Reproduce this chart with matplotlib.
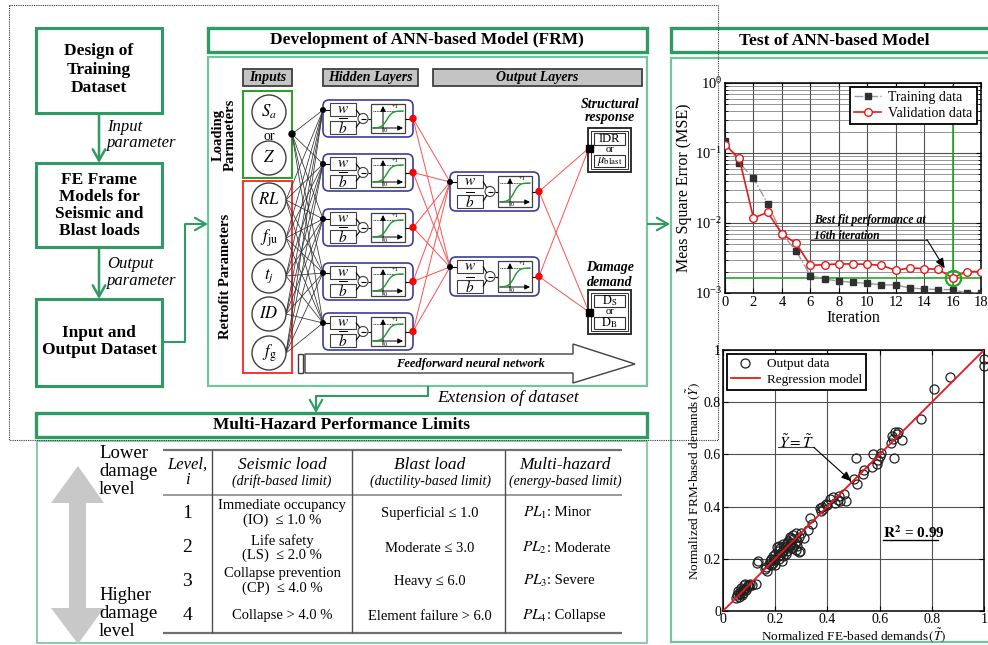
import numpy as np
import matplotlib
matplotlib.use("Agg")
import matplotlib.pyplot as plt
from matplotlib.patches import Rectangle, FancyBboxPatch, Circle, Polygon
from matplotlib.ticker import LogLocator, NullFormatter

plt.rcParams["font.family"] = ["Liberation Serif", "DejaVu Serif"]
plt.rcParams["mathtext.fontset"] = "stix"

# ---------------- training history (MSE vs iteration) ----------------
iterations = list(range(19))
mse_training = [0.147, 0.072, 0.044, 0.0189, 0.0070, 0.0040, 0.00177, 0.00158,
                0.00148, 0.00142, 0.00137, 0.00131, 0.00130, 0.00118, 0.00114,
                0.00112, 0.00112, 0.00100, 0.00100]
mse_validation = [0.131, 0.084, 0.0118, 0.0142, 0.0070, 0.0051, 0.00248, 0.00254,
                  0.00260, 0.00260, 0.00257, 0.00248, 0.00211, 0.00228, 0.00223,
                  0.00218, 0.00164, 0.00202, 0.00202]
best_iteration = 16
best_mse = 0.00164

# ---------------- FE vs FRM normalized demands ----------------
fe_demand = [0.05, 0.055, 0.06, 0.062, 0.065, 0.07, 0.072, 0.075, 0.078, 0.08,
             0.082, 0.085, 0.088, 0.09, 0.095, 0.10, 0.105, 0.11, 0.125, 0.07, 0.058,
             0.135, 0.13, 0.16, 0.165, 0.17, 0.175, 0.18, 0.185, 0.19, 0.19,
             0.195, 0.20, 0.20, 0.205, 0.21, 0.21, 0.215, 0.22, 0.22, 0.225,
             0.23, 0.23, 0.235, 0.24, 0.24, 0.245, 0.25, 0.25, 0.255, 0.26,
             0.26, 0.265, 0.27, 0.27, 0.275, 0.28, 0.28, 0.285, 0.29, 0.295,
             0.29, 0.30, 0.31, 0.325, 0.34, 0.335, 0.255, 0.245, 0.215, 0.225,
             0.185, 0.20, 0.23, 0.27, 0.285,
             0.37, 0.375, 0.38, 0.385, 0.395, 0.40, 0.41, 0.42, 0.43, 0.44,
             0.445, 0.45, 0.465, 0.47, 0.50, 0.515, 0.51, 0.535, 0.54, 0.57,
             0.575, 0.59, 0.595, 0.60, 0.605, 0.645, 0.648, 0.65, 0.655, 0.66,
             0.665, 0.67, 0.685, 0.76, 0.81, 0.87, 1.0, 1.0]
frm_demand = [0.05, 0.06, 0.07, 0.055, 0.065, 0.075, 0.06, 0.08, 0.07, 0.10,
              0.085, 0.105, 0.09, 0.08, 0.10, 0.095, 0.105, 0.10, 0.105, 0.09, 0.075,
              0.19, 0.185, 0.16, 0.17, 0.155, 0.18, 0.19, 0.20, 0.21, 0.185,
              0.20, 0.22, 0.195, 0.245, 0.21, 0.23, 0.20, 0.215, 0.24, 0.225,
              0.21, 0.235, 0.25, 0.22, 0.245, 0.26, 0.24, 0.27, 0.25, 0.28,
              0.26, 0.24, 0.275, 0.29, 0.26, 0.30, 0.235, 0.25, 0.225, 0.23,
              0.285, 0.30, 0.28, 0.31, 0.335, 0.355, 0.285, 0.23, 0.25, 0.19,
              0.175, 0.175, 0.255, 0.245, 0.27,
              0.395, 0.385, 0.40, 0.39, 0.41, 0.405, 0.43, 0.435, 0.415, 0.425,
              0.44, 0.42, 0.45, 0.42, 0.505, 0.485, 0.585, 0.525, 0.54, 0.55,
              0.60, 0.565, 0.58, 0.595, 0.605, 0.645, 0.67, 0.66, 0.585, 0.685,
              0.68, 0.685, 0.655, 0.735, 0.85, 0.895, 0.965, 0.94]
reg_x = [0.0, 1.0]
reg_y = [0.0, 1.0]

# ---------------- performance-limit table ----------------
levels = ["1", "2", "3", "4"]
seismic_limits = [("Immediate occupancy", "(IO)  \u2264 1.0 %"),
                  ("Life safety", "(LS)  \u2264 2.0 %"),
                  ("Collapse prevention", "(CP)  \u2264 4.0 %"),
                  ("Collapse > 4.0 %", None)]
blast_limits = ["Superficial \u2264 1.0", "Moderate \u2264 3.0",
                "Heavy \u2264 6.0", "Element failure > 6.0"]
hazard_limits = [(r"$PL_1$", ": Minor"), (r"$PL_2$", ": Moderate"),
                 (r"$PL_3$", ": Severe"), (r"$PL_4$", ": Collapse")]

GREEN_D = "#2f9a62"
GREEN_L = "#74c49c"
BLUE = "#3c3c9c"

W, H = 988, 645
fig = plt.figure(figsize=(W / 100, H / 100), dpi=100)
ax = fig.add_axes([0, 0, 1, 1])
ax.set_xlim(0, W)
ax.set_ylim(H, 0)
ax.axis("off")


def rect(x0, y0, x1, y1, ec="black", lw=1.0, fc="none", z=2, **kw):
    p = Rectangle((x0, y0), x1 - x0, y1 - y0, ec=ec, fc=fc, lw=lw, zorder=z, **kw)
    ax.add_patch(p)
    return p


def txt(x, y, s, size=10, weight="normal", style="normal", ha="center",
        va="center", color="black", z=5, **kw):
    return ax.text(x, y, s, fontsize=size, fontweight=weight, fontstyle=style,
                   ha=ha, va=va, color=color, zorder=z, **kw)


def line(xs, ys, color="black", lw=1.0, z=3, **kw):
    ax.plot(xs, ys, color=color, lw=lw, zorder=z, solid_capstyle="butt", **kw)


def arrow(x0, y0, x1, y1, color=GREEN_D, lw=1.8):
    ax.annotate("", xy=(x1, y1), xytext=(x0, y0), zorder=4,
                arrowprops=dict(arrowstyle="->,head_length=0.8,head_width=0.45",
                                color=color, lw=lw, shrinkA=0, shrinkB=0))


# ---------------- outer dotted frame ----------------
rect(9, 5, 718, 440, ec="#333333", lw=0.8, z=6, ls=(0, (1, 1)))

# ---------------- left flow chart ----------------
rect(36, 28, 162, 113, ec=GREEN_D, lw=2.2, fc="white")
for yy, s in zip([51, 70, 88], ["Design of", "Training", "Dataset"]):
    txt(99, yy, s, 12.5, "bold")
arrow(99, 113, 99, 163)
txt(107, 127, "Input", 12, style="italic", ha="left")
txt(107, 143, "parameter", 12, style="italic", ha="left")

rect(36, 163, 162, 247, ec=GREEN_D, lw=2.2, fc="white")
for yy, s in zip([180, 197, 214, 231],
                 ["FE Frame", "Models for", "Seismic and", "Blast loads"]):
    txt(99, yy, s, 12.5, "bold")
arrow(99, 247, 99, 299)
txt(107, 264, "Output", 12, style="italic", ha="left")
txt(107, 281, "parameter", 12, style="italic", ha="left")

rect(36, 299, 162, 386, ec=GREEN_D, lw=2.2, fc="white")
txt(99, 333, "Input and", 12.5, "bold")
txt(99, 350, "Output Dataset", 12.5, "bold")

line([162, 185, 185], [342, 342, 224], color=GREEN_D, lw=1.5)
arrow(185, 224, 208, 224, lw=1.5)

# ---------------- ANN development panel ----------------
rect(208, 28, 647, 52, ec=GREEN_D, lw=2.4, fc="white")
txt(427, 40, "Development of ANN-based Model (FRM)", 12.5, "bold")
rect(208, 57, 647, 386, ec=GREEN_L, lw=1.6, fc="white", z=1)
line([647, 668], [224, 224], color=GREEN_D, lw=1.5)
arrow(660, 224, 670, 224, lw=1.5)

for (x0, x1), s in zip([(243, 292), (323, 418), (433, 642)],
                       ["Inputs", "Hidden Layers", "Output Layers"]):
    rect(x0, 69, x1, 86, ec="#404040", lw=1.3, fc="#c4c4c4")
    txt((x0 + x1) / 2, 77.5, s, 10, "bold", "italic")

# input groups
rect(243, 91, 292, 178, ec="#22a022", lw=1.4, fc="white")
rect(243, 181, 292, 373, ec="#ff3030", lw=1.4, fc="white")
txt(218, 135, "Loading", 10.5, "bold", rotation=90)
txt(230, 135, "Parmaeters", 10.5, "bold", rotation=90)
txt(225, 276, "Retrofit Parameters", 10.5, "bold", rotation=90)

cx, cr = 269, 17
loading_nodes = [(112, r"$S_a$"), (158, r"$Z$")]
retrofit_nodes = [(200, r"$RL$"), (238, r"$f_{\mathrm{ju}}$"), (276, r"$t_j$"),
                  (314, r"$ID$"), (353, r"$f_{\mathrm{g}}$")]
for cy, lab in loading_nodes + retrofit_nodes:
    ax.add_patch(Circle((cx, cy), cr, ec="#404040", fc="white", lw=1.0, zorder=3))
    txt(cx, cy, lab, 12)
txt(cx, 136, "or", 10)

hid_tops = [100, 154, 209, 263, 313]
out_tops = [172, 257]
hid_x0, hid_w, hid_h = 323, 90, 37
out_x0, out_w, out_h = 450, 89, 39

# input -> hidden connections
src_pts = [(292, 134)] + [(cx + cr, cy) for cy, _ in retrofit_nodes]
for sx, sy in src_pts:
    for t in hid_tops:
        line([sx, hid_x0], [sy, t + 10], color="#303030", lw=0.55, z=2)
ax.add_patch(Circle((292, 134), 3, color="black", zorder=4))


def neuron(x0, y0, w, h):
    ax.add_patch(FancyBboxPatch((x0, y0), w, h,
                                boxstyle="round,pad=0,rounding_size=6",
                                ec=BLUE, fc="white", lw=1.2, zorder=3))
    ym = y0 + h / 2
    ax.add_patch(Circle((x0, y0 + 10), 2.3, color="black", zorder=5))
    line([x0, x0 + 7], [y0 + 10, y0 + 10], lw=0.8, z=4)
    rect(x0 + 7, y0 + 3, x0 + 33, y0 + 16, ec="#404040", lw=0.8, fc="white", z=4)
    txt(x0 + 20, y0 + 9.5, r"$w$", 11)
    rect(x0 + 7, y0 + h - 16, x0 + 33, y0 + h - 3, ec="#404040", lw=0.8,
         fc="white", z=4)
    txt(x0 + 20, y0 + h - 9.5, r"$\overline{b}$", 11)
    ax.add_patch(Circle((x0 + 40, ym), 5, ec="#404040", fc="white", lw=0.8, zorder=4))
    line([x0 + 37.5, x0 + 42.5], [ym, ym], lw=0.8, z=5)
    line([x0 + 33, x0 + 37], [y0 + 9.5, ym - 3.5], lw=0.8, z=4)
    line([x0 + 33, x0 + 37], [y0 + h - 9.5, ym + 3.5], lw=0.8, z=4)
    line([x0 + 45, x0 + 48], [ym, ym], lw=0.8, z=4)
    bx0, by0, bx1, by1 = x0 + 48, y0 + 4, x0 + 82, y0 + h - 4
    rect(bx0, by0, bx1, by1, ec="#404040", lw=0.9, fc="white", z=4)
    base, top = by1 - 5, by0 + 7
    ax.annotate("", xy=(bx1 - 2, base), xytext=(bx0 + 2, base), zorder=5,
                arrowprops=dict(arrowstyle="-|>,head_length=0.3,head_width=0.15",
                                color="black", lw=0.7, shrinkA=0, shrinkB=0))
    ax.annotate("", xy=(bx0 + 12, by0 + 2), xytext=(bx0 + 12, by1 - 1), zorder=5,
                arrowprops=dict(arrowstyle="-|>,head_length=0.3,head_width=0.15",
                                color="black", lw=0.7, shrinkA=0, shrinkB=0))
    line([bx0 + 2, bx1 - 2], [top, top], lw=0.6, z=5, ls=(0, (1, 1)))
    sx = np.linspace(bx0 + 2, bx1 - 2, 40)
    sy = base - (base - top) / (1 + np.exp(-(sx - (bx0 + 16)) / 2.6))
    ax.plot(sx, sy, color="#1a9a2a", lw=1.0, zorder=6)
    txt(bx0 + 24, by0 + 2.5, "+1", 4.5)
    txt(bx0 + 14.5, by1 - 2, "0", 4.5)
    line([bx1, x0 + w], [ym, ym], lw=0.8, z=4)
    ax.add_patch(Circle((x0 + w, ym), 3, color="red", zorder=6))
    return (x0, y0 + 10), (x0 + w, ym)


hid_ports = [neuron(hid_x0, t, hid_w, hid_h) for t in hid_tops]
out_ports = [neuron(out_x0, t, out_w, out_h) for t in out_tops]

for _, (rx, ry) in hid_ports:
    for (lx, ly), _ in out_ports:
        line([rx, lx], [ry, ly], color="#ff5050", lw=0.7, z=2)

# output variables
final_pts = [(589, 148), (589, 312)]
for _, (rx, ry) in out_ports:
    for fx, fy in final_pts:
        line([rx, fx], [ry, fy], color="#ff5050", lw=0.7, z=2)

txt(610, 105, "Structural", 10, "bold", "italic")
txt(610, 118, "response", 10, "bold", "italic")
txt(610, 268, "Damage", 10, "bold", "italic")
txt(610, 282, "demand", 10, "bold", "italic")
for y0, (a, b) in zip([128, 290], [("IDR", r"$\mu_{\mathrm{blast}}$"),
                                   (r"$\mathrm{D_S}$", r"$\mathrm{D_B}$")]):
    rect(588, y0, 631, y0 + 44, ec="#303030", lw=1.4, fc="white", z=3)
    rect(591, y0 + 3, 628, y0 + 41, ec="#303030", lw=0.7, fc="white", z=3)
    rect(594, y0 + 5, 625, y0 + 17, ec="#303030", lw=0.8, fc="white", z=4)
    rect(594, y0 + 27, 625, y0 + 39, ec="#303030", lw=0.8, fc="white", z=4)
    txt(609.5, y0 + 11, a, 9)
    txt(609.5, y0 + 22, "or", 7.5)
    txt(609.5, y0 + 33, b, 9)
for fx, fy in final_pts:
    rect(fx - 3.5, fy - 3.5, fx + 3.5, fy + 3.5, ec="black", fc="black", z=5)

# feed-forward arrow
rect(298, 354, 303, 373, ec="#404040", lw=1.0, fc="white")
ax.add_patch(Polygon([(305, 354), (573, 354), (573, 344), (635, 364), (573, 383),
                      (573, 373), (305, 373)], closed=True, ec="#404040",
                     fc="white", lw=1.0, zorder=2))
txt(470, 364, "Feedforward neural network", 9, "bold", "italic")

# extension of dataset
line([428, 428, 316, 316], [386, 396, 396, 405], color=GREEN_D, lw=1.5)
arrow(316, 400, 316, 413, lw=1.5)
txt(437, 398, "Extension of dataset", 12.5, style="italic", ha="left")

# ---------------- performance-limit table ----------------
rect(36, 413, 647, 437, ec=GREEN_D, lw=2.4, fc="white")
txt(341, 425, "Multi-Hazard Performance Limits", 12.5, "bold")
rect(37, 441, 647, 643, ec=GREEN_L, lw=1.2, fc="white", z=1)

ax.add_patch(Polygon([(78, 466), (104, 503), (86, 503), (86, 608), (104, 608),
                      (78, 644), (51, 608), (69, 608), (69, 503), (51, 503)],
                     closed=True, fc="#c8c8c8", ec="none", zorder=2))
for yy, s in zip([454, 472, 490], ["Lower", "damage", "level"]):
    txt(99, yy, s, 13.5, ha="left")
for yy, s in zip([595, 613, 631], ["Higher", "damage", "level"]):
    txt(99, yy, s, 13.5, ha="left")

tx0, tx1 = 163, 622
line([tx0, tx1], [450, 450], color="#707070", lw=1.6)
line([tx0, tx1], [495, 495], color="#808080", lw=1.1)
line([tx0, tx1], [633, 633], color="#707070", lw=1.6)
for vx in [212, 352, 505]:
    line([vx, vx], [450, 633], color="#505050", lw=1.0)

col_c = [187, 282, 430, 565]
txt(col_c[0], 465, "Level,", 12, style="italic")
txt(col_c[0], 480, "i", 12, style="italic")
for c, (a, b) in zip(col_c[1:], [("Seismic load", "(drift-based limit)"),
                                 ("Blast load", "(ductility-based limit)"),
                                 ("Multi-hazard", "(energy-based limit)")]):
    txt(c, 465, a, 12.5, style="italic")
    txt(c, 481, b, 10, style="italic")

row_y = [513, 548, 581, 616]
for yy, lv, (s1, s2), bl, (pl, pd) in zip(row_y, levels, seismic_limits,
                                           blast_limits, hazard_limits):
    txt(col_c[0], yy, lv, 14)
    if s2 is None:
        txt(col_c[1], yy, s1, 10.5)
    else:
        txt(col_c[1], yy - 7, s1, 10.5)
        txt(col_c[1], yy + 7, s2, 10.5)
    txt(col_c[2], yy, bl, 10.5)
    txt(col_c[3] - 18, yy, pl, 11, ha="right")
    txt(col_c[3] - 18, yy, pd, 10.5, ha="left")

# ---------------- test panel ----------------
rect(671, 28, 995, 52, ec=GREEN_D, lw=2.4, fc="white")
txt(834, 41, "Test of ANN-based Model", 12.5, "bold")
rect(671, 58, 995, 642, ec=GREEN_L, lw=1.6, fc="white", z=1)

# MSE history
ax1 = fig.add_axes([725 / W, 1 - 293 / H, 256 / W, 210 / H])
ax1.set_yscale("log")
ax1.set_xlim(0, 18)
ax1.set_ylim(1e-3, 1)
ax1.set_xticks(range(0, 19, 2))
ax1.yaxis.set_major_locator(LogLocator(base=10, numticks=10))
ax1.yaxis.set_minor_locator(LogLocator(base=10, subs=np.arange(2, 10), numticks=10))
ax1.yaxis.set_minor_formatter(NullFormatter())
ax1.grid(True, which="major", color="#505050", lw=0.8)
ax1.grid(True, which="minor", axis="y", color="#6a6a6a", lw=0.5)
ax1.tick_params(direction="in", which="both", top=True, right=True,
                labelsize=10.5, pad=2)
for sp in ax1.spines.values():
    sp.set_linewidth(1.1)
ax1.plot(iterations, mse_training, color="#9a9a9a", lw=1.0, ls="-.", marker="s",
         ms=4.5, mfc="#303030", mec="#303030", label="Training data", zorder=3)
ax1.plot(iterations, mse_validation, color="#e41a1a", lw=1.2, marker="o", ms=5.5,
         mfc="white", mec="#e41a1a", mew=1.0, label="Validation data", zorder=4)
ax1.axhline(best_mse, color="#22aa22", lw=1.2, zorder=2)
ax1.plot([best_iteration, best_iteration], [1e-3, 0.9], color="#22aa22", lw=1.2,
         zorder=2)
ax1.plot([best_iteration], [best_mse], "o", ms=11, mfc="none", mec="#22aa22",
         mew=1.6, zorder=5)
ax1.text(6.25, 0.0085, "Best fit performance at\n16th iteration", fontsize=8.5,
         fontweight="bold", fontstyle="italic", ha="left", va="center",
         linespacing=1.5, zorder=6)
ax1.plot([6.05, 14.2], [0.0058, 0.0058], color="#404040", lw=0.8, zorder=6)
ax1.annotate("", xy=(15.45, 0.00225), xytext=(14.2, 0.0058), zorder=6,
             arrowprops=dict(arrowstyle="-|>,head_length=0.6,head_width=0.25",
                             color="black", lw=0.8, shrinkA=0, shrinkB=0))
leg = ax1.legend(loc="upper right", fontsize=10, frameon=True, fancybox=False,
                 framealpha=1, edgecolor="black", borderaxespad=0.3,
                 handlelength=2.0, borderpad=0.3, labelspacing=0.2,
                 handletextpad=0.5)
leg.get_frame().set_linewidth(1.3)
leg.set_zorder(10)
ax1.set_xlabel("Iteration", fontsize=11.5, labelpad=1)
ax1.set_ylabel("Meas Square Error (MSE)", fontsize=11.5, labelpad=2)

# regression
ax2 = fig.add_axes([723 / W, 1 - 611 / H, 261 / W, 261 / H])
ax2.set_xlim(0, 1)
ax2.set_ylim(0, 1)
tks = [0, 0.2, 0.4, 0.6, 0.8, 1.0]
tkl = ["0", "0.2", "0.4", "0.6", "0.8", "1"]
ax2.set_xticks(tks)
ax2.set_xticklabels(tkl)
ax2.set_yticks(tks)
ax2.set_yticklabels(tkl)
ax2.grid(True, color="#505050", lw=0.8)
ax2.tick_params(direction="in", top=True, right=True, labelsize=10, pad=1.5)
for sp in ax2.spines.values():
    sp.set_linewidth(1.1)
ax2.plot(fe_demand, frm_demand, "o", ms=6.5, mfc="none", mec="#202020", mew=0.9,
         label="Output data", zorder=3, clip_on=False)
ax2.plot(reg_x, reg_y, color="#e41a1a", lw=1.3, label="Regression model", zorder=4)
ax2.text(0.215, 0.648, r"$\tilde{Y}=\tilde{T}$", fontsize=11, ha="left",
         va="center", zorder=6)
ax2.plot([0.21, 0.348], [0.627, 0.627], color="#404040", lw=0.8, zorder=6)
ax2.annotate("", xy=(0.492, 0.497), xytext=(0.348, 0.627), zorder=6,
             arrowprops=dict(arrowstyle="-|>,head_length=0.6,head_width=0.25",
                             color="black", lw=0.8, shrinkA=0, shrinkB=0))
ax2.text(0.614, 0.30, r"$\mathbf{R^2}$ = 0.99", fontsize=11, fontweight="bold",
         ha="left", va="center", zorder=6)
ax2.plot([0.614, 0.825], [0.272, 0.272], color="black", lw=1.0, zorder=6)
leg2 = ax2.legend(loc="upper left", fontsize=9.5, frameon=True, fancybox=False,
                  framealpha=1, edgecolor="black", borderaxespad=0.3,
                  handlelength=2.2, borderpad=0.3, labelspacing=0.25,
                  handletextpad=0.5)
leg2.get_frame().set_linewidth(1.3)
ax2.set_xlabel(r"Normalized FE-based demands$\,(\tilde{T})$", fontsize=9.5,
               labelpad=0)
ax2.set_ylabel(r"Normalized FRM-based demands$\,(\tilde{Y})$", fontsize=9.5,
               labelpad=1)

fig.savefig("out.png", dpi=100)
